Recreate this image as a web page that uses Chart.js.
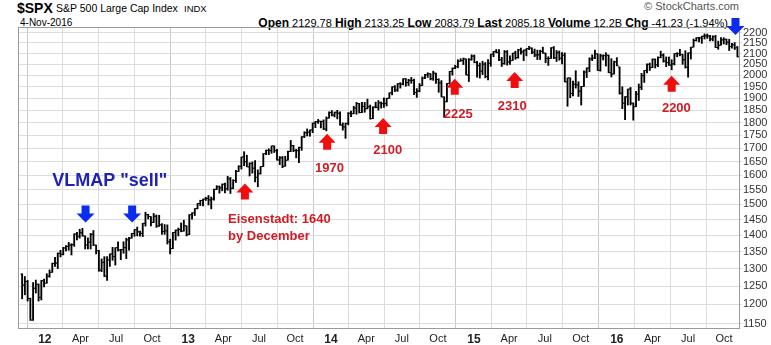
<!DOCTYPE html>
<html>
<head>
<meta charset="utf-8">
<script src="https://cdn.jsdelivr.net/npm/chart.js@4.4.0/dist/chart.umd.min.js"></script>
<style>
body { margin: 0; background: #fff; font-family: "Liberation Sans", Arial, sans-serif; }
#wrap { position: relative; width: 771px; height: 345px; overflow: hidden; }
#hdr span { position: absolute; white-space: nowrap; color: #000; line-height: 1; }
#chart { position: absolute; left: 0; top: 0; z-index: 1; }
</style>
</head>
<body>
<div id="wrap">
  <div id="hdr">
    <span style="left:17px;top:1px;font-weight:bold;font-size:14px">$SPX</span>
    <span style="left:56px;top:3px;font-size:10.5px">S&amp;P 500 Large Cap Index</span>
    <span style="left:184px;top:4px;font-size:9.5px">INDX</span>
    <span style="left:20px;top:18px;font-size:10px">4-Nov-2016</span>
    <span style="right:43px;top:17px;font-size:11px"><b style="font-size:12px">Open</b> 2129.78 <b style="font-size:12px">High</b> 2133.25 <b style="font-size:12px">Low</b> 2083.79 <b style="font-size:12px">Last</b> 2085.18 <b style="font-size:12px">Volume</b> 12.2B <b style="font-size:12px">Chg</b> -41.23 (-1.94%)</span>
    <span style="right:32px;top:1px;font-size:11px;color:#555">&copy; StockCharts.com</span>
  </div>
  <canvas id="chart" width="771" height="345"></canvas>
</div>
<script>
// weekly bars, first one is the week ending 4-Nov-2011
var firstWeek = '2011-11-04';

var opens = [
  1284,1253,1263,1216,1159,1244,1255,1219,1265,
  // 2012
  1258,1278,1289,1315,1316,1345,1342,1361,1366,1370,1371,1404,1397,
  1408,1398,1370,1379,1403,1370,1353,1295,1318,1278,1325,1343,1335,
  1362,1355,1356,1362,1386,1391,1406,1418,1411,1406,1438,1466,1460,
  1441,1461,1429,1433,1412,1414,1380,1359,1409,1416,1418,1413,1430,
  // 2013
  1402,1466,1472,1486,1503,1513,1518,1520,1515,1518,1551,1560,1556,
  1569,1553,1588,1555,1582,1614,1633,1667,1650,1631,1643,1626,1593,
  1606,1632,1680,1692,1691,1709,1691,1656,1664,1633,1655,1688,1710,
  1692,1691,1703,1744,1760,1762,1771,1798,1804,1806,1805,1775,1818,
  // 2014
  1841,1831,1842,1838,1790,1783,1797,1838,1836,1859,1878,1841,1866,
  1857,1865,1816,1864,1863,1881,1878,1878,1900,1924,1950,1936,1963,
  1961,1985,1968,1978,1978,1925,1931,1955,1988,2003,2007,1985,2010,
  1982,1967,1906,1886,1964,2018,2032,2039,2064,2067,2075,2002,2071,
  // 2015
  2088,2058,2044,2019,2051,1995,2055,2097,2110,2105,2071,2053,2108,
  2061,2067,2102,2081,2117,2108,2116,2123,2126,2107,2093,2094,2110,
  2102,2077,2077,2127,2080,2104,2078,2092,1971,1989,1921,1961,1958,
  1931,1951,2015,2033,2075,2079,2099,2023,2089,2090,2092,2012,2006,
  // 2016
  2061,2038,1922,1880,1907,1940,1880,1865,1918,1948,1999,2022,2050,
  2035,2073,2048,2081,2092,2065,2058,2047,2052,2099,2099,2096,2071,
  2037,2103,2130,2162,2175,2174,2183,2184,2184,2169,2180,2128,2139,
  2165,2168,2153,2133,2141,2129.78
];
var highs = [
  1285,1277,1266,1217,1260,1267,1256,1266,1270,
  1285,1296,1316,1333,1346,1354,1363,1368,1378,1374,1405,1409,1419,
  1422,1398,1392,1406,1415,1370,1354,1328,1335,1335,1343,1363,1362,
  1380,1357,1380,1391,1394,1406,1418,1426,1413,1438,1474,1467,1460,
  1470,1465,1464,1437,1434,1433,1388,1409,1417,1423,1439,1448,1430,
  1466,1472,1486,1503,1514,1518,1524,1530,1525,1552,1564,1563,1570,
  1573,1597,1593,1585,1618,1635,1667,1687,1674,1646,1649,1654,1620,
  1632,1680,1693,1698,1709,1709,1696,1669,1669,1670,1689,1730,1711,
  1696,1704,1745,1764,1775,1771,1799,1805,1813,1806,1811,1823,1844,
  1849,1843,1850,1844,1799,1798,1841,1847,1867,1883,1879,1883,1883,
  1897,1872,1865,1884,1891,1885,1902,1901,1924,1950,1955,1964,1968,
  1985,1986,1983,1991,1984,1942,1964,1993,2005,2012,2008,2019,2010,
  1985,1977,1907,1965,2018,2034,2046,2071,2076,2079,2075,2077,2094,
  2093,2064,2056,2064,2058,2072,2097,2110,2119,2118,2082,2114,2114,
  2089,2102,2111,2120,2126,2117,2123,2134,2127,2121,2116,2116,2130,
  2102,2085,2128,2133,2114,2112,2104,2103,1989,1989,1975,2021,1972,
  1952,2020,2034,2080,2094,2116,2099,2097,2094,2104,2093,2076,2065,
  2081,2038,1950,1908,1940,1947,1881,1930,1962,2009,2022,2052,2056,
  2075,2075,2084,2111,2099,2084,2084,2071,2100,2104,2120,2096,2113,
  2103,2130,2169,2176,2177,2183,2194,2193,2187,2185,2187,2159,2176,
  2175,2169,2168,2148,2152,2133.25
];
var lows = [
  1215,1226,1209,1158,1158,1231,1209,1212,1248,
  1258,1275,1289,1306,1300,1334,1340,1352,1354,1340,1366,1386,1391,
  1397,1358,1358,1358,1368,1343,1292,1291,1277,1266,1306,1324,1310,
  1352,1326,1345,1329,1354,1391,1397,1398,1397,1396,1429,1452,1430,
  1440,1425,1428,1403,1403,1373,1343,1359,1385,1398,1411,1413,1398,
  1402,1451,1463,1485,1496,1495,1513,1498,1485,1514,1550,1538,1546,
  1539,1548,1537,1553,1575,1614,1623,1635,1631,1598,1608,1577,1560,
  1605,1632,1676,1676,1681,1684,1655,1639,1628,1633,1655,1687,1687,
  1664,1646,1692,1741,1747,1746,1760,1780,1797,1779,1772,1767,1818,
  1827,1823,1815,1790,1770,1738,1791,1824,1836,1834,1839,1840,1842,
  1856,1814,1816,1860,1851,1859,1862,1868,1900,1915,1929,1930,1944,
  1958,1952,1955,1965,1916,1904,1928,1955,1985,1991,1980,1978,1965,
  1926,1906,1821,1885,1961,2001,2030,2034,2064,2049,2002,1973,2069,
  2057,1992,1988,2004,1989,1980,2041,2085,2103,2067,2040,2050,2046,
  2049,2067,2073,2078,2097,2067,2089,2118,2099,2085,2072,2072,2101,
  2057,2045,2077,2076,2063,2069,2052,1971,1867,1903,1910,1944,1908,
  1872,1951,1990,2016,2067,2076,2022,2019,2070,2042,2012,1993,2006,
  2043,1918,1857,1812,1872,1872,1810,1865,1891,1937,1969,2011,2022,
  2035,2033,2039,2080,2060,2039,2045,2025,2047,2085,2089,2050,2033,
  1992,2074,2130,2159,2155,2148,2169,2172,2160,2160,2128,2120,2139,
  2145,2142,2114,2125,2119,2083.79
];
var closes = [
  1253,1263,1216,1159,1244,1255,1219,1265,1258,
  1278,1289,1315,1316,1345,1342,1361,1366,1370,1371,1404,1397,1408,
  1398,1370,1379,1403,1370,1353,1295,1318,1278,1325,1343,1335,1362,
  1355,1356,1362,1386,1391,1406,1418,1411,1406,1438,1466,1460,1441,
  1461,1429,1433,1412,1414,1380,1359,1409,1416,1418,1413,1430,1402,
  1466,1472,1486,1503,1513,1518,1520,1515,1518,1551,1560,1556,1569,
  1553,1588,1555,1582,1614,1633,1667,1650,1631,1643,1626,1593,1606,
  1632,1680,1692,1691,1709,1691,1656,1664,1633,1655,1688,1710,1692,
  1691,1703,1744,1760,1762,1771,1798,1804,1806,1805,1775,1818,1841,
  1831,1842,1838,1790,1783,1797,1838,1836,1859,1878,1841,1866,1857,
  1865,1816,1864,1863,1881,1878,1878,1900,1924,1950,1936,1963,1961,
  1985,1968,1978,1978,1925,1931,1955,1988,2003,2007,1985,2010,1982,
  1967,1906,1886,1964,2018,2032,2039,2064,2067,2075,2002,2071,2088,
  2058,2044,2019,2051,1995,2055,2097,2110,2105,2071,2053,2108,2061,
  2067,2102,2081,2117,2108,2116,2123,2126,2107,2093,2094,2110,2102,
  2077,2077,2127,2080,2104,2078,2092,1971,1989,1921,1961,1958,1931,
  1951,2015,2033,2075,2079,2099,2023,2089,2090,2092,2012,2006,2061,
  2044,1922,1880,1907,1940,1880,1865,1918,1948,1999,2022,2050,2035,
  2073,2048,2081,2092,2065,2058,2047,2052,2099,2099,2096,2071,2037,
  2103,2130,2162,2175,2174,2183,2184,2184,2169,2180,2128,2139,2165,
  2168,2153,2133,2141,2126,2085.18
];

var yTicks = [1150,1200,1250,1300,1350,1400,1450,1500,1550,1600,1650,1700,1750,1800,1850,1900,1950,2000,2050,2100,2150,2200];
var xTickDates = ['2012-01-01','2012-04-01','2012-07-01','2012-10-01','2013-01-01','2013-04-01','2013-07-01','2013-10-01',
  '2014-01-01','2014-04-01','2014-07-01','2014-10-01','2015-01-01','2015-04-01','2015-07-01','2015-10-01',
  '2016-01-01','2016-04-01','2016-07-01','2016-10-01'];
var xTickLabels = ['12','Apr','Jul','Oct','13','Apr','Jul','Oct','14','Apr','Jul','Oct','15','Apr','Jul','Oct','16','Apr','Jul','Oct'];

// annotations
var arrowDates  = ['2012-04-14','2012-08-11','2016-10-30','2013-05-26','2013-12-22','2014-05-14','2014-11-13','2015-04-15','2016-05-20'];
var arrowPrices = [1468,1468,2230,1544,1725,1787,1950,1980,1963];
var arrowDirs   = ['down','down','down','up','up','up','up','up','up'];
var noteTexts  = ['VLMAP "sell"','Eisenstadt: 1640','by December','1970','2100','2225','2310','2200'];
var noteDates  = ['2012-06-15','2013-04-13','2013-04-13','2013-12-28','2014-05-26','2014-11-22','2015-04-09','2016-06-01'];
var notePrices = [1580,1449,1398,1626,1693,1832,1867,1859];

function dayOf(s) { return (Date.parse(s) - Date.parse('2012-01-01')) / 86400000; }
var weekDays = [];
for (var i = 0; i < closes.length; i++) weekDays.push(dayOf(firstWeek) + 7 * i);
var xTickDays = xTickDates.map(dayOf);

var FONT = '"Liberation Sans", Arial, sans-serif';

var frame = {
  id: 'frame',
  beforeDatasetsDraw: function(chart) {
    var a = chart.chartArea, c = chart.ctx;
    c.save();
    c.strokeStyle = '#9a9a9a';
    c.lineWidth = 1;
    c.strokeRect(a.left - 0.5, a.top - 0.5, a.right - a.left + 1, a.bottom - a.top + 1);
    c.restore();
  }
};

var ohlcTicks = {
  id: 'ohlcTicks',
  afterDatasetsDraw: function(chart) {
    var c = chart.ctx, x = chart.scales.x, y = chart.scales.y, a = chart.chartArea;
    c.save();
    c.beginPath();
    c.rect(a.left, a.top, a.right - a.left, a.bottom - a.top);
    c.clip();
    c.fillStyle = '#000';
    for (var i = 0; i < weekDays.length; i++) {
      var px = x.getPixelForValue(weekDays[i]);
      c.fillRect(px - 1.6, y.getPixelForValue(opens[i]) - 0.5, 1.2, 1);
      c.fillRect(px + 0.4, y.getPixelForValue(closes[i]) - 0.5, 1.2, 1);
    }
    c.restore();
  }
};

var notes = {
  id: 'notes',
  afterDraw: function(chart) {
    var c = chart.ctx, x = chart.scales.x, y = chart.scales.y;
    c.save();
    for (var i = 0; i < arrowDates.length; i++) {
      var px = x.getPixelForValue(dayOf(arrowDates[i]));
      var py = y.getPixelForValue(arrowPrices[i]);
      var down = arrowDirs[i] === 'down';
      var w = down ? 18 : 17, h = down ? 17 : 16, sw = 8, hh = 9;
      var s = down ? 1 : -1;
      var top = py - s * h / 2;
      c.fillStyle = down ? '#0a2cf2' : '#f20d0d';
      c.beginPath();
      c.moveTo(px - sw / 2, top);
      c.lineTo(px + sw / 2, top);
      c.lineTo(px + sw / 2, top + s * (h - hh));
      c.lineTo(px + w / 2, top + s * (h - hh));
      c.lineTo(px, top + s * h);
      c.lineTo(px - w / 2, top + s * (h - hh));
      c.lineTo(px - sw / 2, top + s * (h - hh));
      c.closePath();
      c.fill();
    }
    c.textBaseline = 'middle';
    for (var j = 0; j < noteTexts.length; j++) {
      var tx = x.getPixelForValue(dayOf(noteDates[j]));
      var ty = y.getPixelForValue(notePrices[j]);
      if (j === 0) {
        c.font = 'bold 18px ' + FONT;
        c.fillStyle = '#1f22b6';
        c.textAlign = 'center';
      } else {
        c.font = 'bold 13px ' + FONT;
        c.fillStyle = '#cf1d26';
        c.textAlign = (j === 1 || j === 2) ? 'left' : 'center';
      }
      c.fillText(noteTexts[j], tx, ty);
    }
    c.restore();
  }
};

new Chart(document.getElementById('chart').getContext('2d'), {
  type: 'bar',
  data: {
    datasets: [{
      label: '$SPX',
      data: weekDays.map(function(d, i) { return { x: d, y: [lows[i], highs[i]] }; }),
      backgroundColor: '#000',
      borderWidth: 0,
      barThickness: 1.2,
      grouped: false
    }]
  },
  options: {
    responsive: false,
    animation: false,
    devicePixelRatio: 1,
    layout: { padding: { left: 19, top: 28, right: 0, bottom: 0 } },
    plugins: { legend: { display: false }, tooltip: { enabled: false } },
    scales: {
      x: {
        type: 'linear',
        min: -66,
        max: 1773,
        offset: false,
        border: { display: false },
        grid: {
          drawTicks: false,
          color: function(ctx) { return ctx.tick && /^\d+$/.test(xTickLabels[xTickDays.indexOf(ctx.tick.value)]) ? '#c8c8c8' : '#dcdcdc'; }
        },
        ticks: {
          autoSkip: false,
          maxRotation: 0,
          padding: 4,
          color: '#222',
          font: function(ctx) {
            var bold = ctx.tick && /^\d+$/.test(ctx.tick.label);
            return { family: FONT, size: bold ? 12 : 11, weight: bold ? 'bold' : 'normal' };
          },
          callback: function(v) { return xTickLabels[xTickDays.indexOf(v)]; }
        },
        afterBuildTicks: function(s) { s.ticks = xTickDays.map(function(v) { return { value: v }; }); },
        afterFit: function(s) { s.height = 17; }
      },
      y: {
        type: 'logarithmic',
        position: 'right',
        min: 1138.5,
        max: 2223,
        border: { display: false },
        grid: { color: '#dcdcdc', tickLength: 3 },
        ticks: {
          autoSkip: false,
          padding: 1,
          color: '#333',
          font: { family: FONT, size: 11 },
          callback: function(v) { return String(v); }
        },
        afterBuildTicks: function(s) { s.ticks = yTicks.map(function(v) { return { value: v }; }); },
        afterFit: function(s) { s.width = 32; }
      }
    }
  },
  plugins: [frame, ohlcTicks, notes]
});
</script>
</body>
</html>
